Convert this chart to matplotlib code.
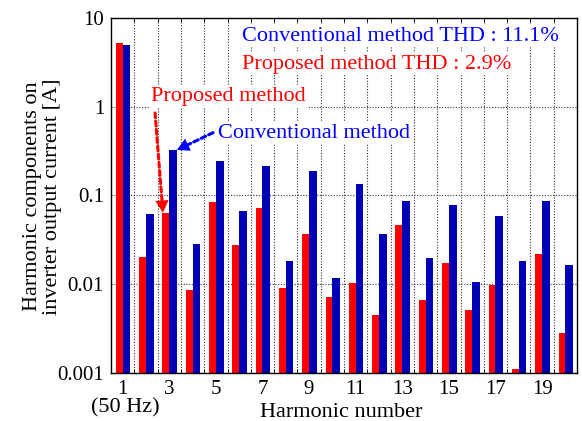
import matplotlib
matplotlib.use("Agg")
import matplotlib.pyplot as plt
import numpy as np

plt.rcParams['font.family'] = ['Liberation Serif', 'DejaVu Serif']

harmonics = list(range(1, 21))
proposed = [5.19, 0.0205, 0.064, 0.0086, 0.085, 0.028, 0.073, 0.0091, 0.0366, 0.0072,
            0.0102, 0.0045, 0.0466, 0.00665, 0.0172, 0.0051, 0.0098, 0.0011, 0.0217, 0.00285]
conventional = [4.97, 0.062, 0.326, 0.0286, 0.243, 0.067, 0.217, 0.0183, 0.187, 0.0118,
                0.135, 0.0366, 0.0867, 0.0199, 0.079, 0.0107, 0.0588, 0.0183, 0.0867, 0.0165]
xtick_vals = [1, 3, 5, 7, 9, 11, 13, 15, 17, 19]
ytick_vals = [0.001, 0.01, 0.1, 1, 10]
ytick_labels = ['0.001', '0.01', '0.1', '1', '10']

fig = plt.figure(figsize=(5.82, 4.21), dpi=100)
ax = fig.add_axes([111/582, 1-373/421, (577-111)/582, (373-18)/421])

x = np.array(harmonics)
ax.set_yscale('log')
ax.bar(x, proposed, width=-0.29, align='edge', color='#FF0000', zorder=3)
ax.bar(x, conventional, width=0.33, align='edge', color='#0000B4', zorder=3)

ax.set_ylim(0.001, 10)
ax.set_xlim(0.5, 20.5)
ax.set_yticks(ytick_vals)
ax.set_yticklabels(ytick_labels)
ax.yaxis.set_minor_locator(matplotlib.ticker.NullLocator())
ax.set_xticks(xtick_vals)
ax.set_xticks(np.arange(1.5, 20.5, 1.0), minor=True)
ax.tick_params(axis='both', which='major', length=0, labelsize=15, pad=5)
ax.tick_params(axis='x', which='minor', length=3, direction='in', top=True, bottom=True)
ax.grid(True, which='major', axis='y', linestyle=(0, (1, 1.5)), color='#333333', linewidth=0.8, zorder=0)
ax.grid(True, which='minor', axis='x', linestyle=(0, (1, 1.5)), color='#333333', linewidth=0.8, zorder=0)
for s in ax.spines.values():
    s.set_linewidth(1.0)
    s.set_zorder(5)

ax.set_xlabel('Harmonic number', fontsize=16, labelpad=0)
ax.xaxis.set_label_coords((341-111)/466, -0.085)
ax.set_ylabel('Harmonic components on\ninverter output current [A]', fontsize=16, linespacing=1.1)
ax.yaxis.set_label_coords(-0.105, 0.497)
fig.text(125/582, 1-408/421, '(50 Hz)', fontsize=16, ha='center', va='center')

bbox = dict(facecolor='white', edgecolor='none', pad=1)
ax.text(0.281, 0.949, 'Conventional method THD : 11.1%', transform=ax.transAxes,
        ha='left', va='center', fontsize=16, color='#0000FF', bbox=bbox, zorder=4)
ax.text(0.281, 0.870, 'Proposed method THD : 2.9%', transform=ax.transAxes,
        ha='left', va='center', fontsize=16, color='#FF0000', bbox=bbox, zorder=4)

ax.text(2.22, 1.29, 'Proposed method', ha='left', va='center', fontsize=16,
        color='#FF0000', bbox=bbox, zorder=4)
ax.text(5.09, 0.506, 'Conventional method', ha='left', va='center', fontsize=16,
        color='#0000FF', bbox=bbox, zorder=4)


def dashed_arrow(start, tip, color):
    # dashed shaft
    ax.annotate('', xy=tip, xytext=start,
                arrowprops=dict(arrowstyle='-', linestyle=(0, (1.6, 1.1)), color=color,
                                lw=2.2, shrinkA=0, shrinkB=6), zorder=4)
    # solid filled head
    ax.annotate('', xy=tip, xytext=start,
                arrowprops=dict(arrowstyle='-|>,head_width=0.3,head_length=0.55',
                                color=color, lw=0, mutation_scale=16,
                                shrinkA=0, shrinkB=0), zorder=4)


dashed_arrow((2.39, 0.85), (2.73, 0.064), '#FF0000')
dashed_arrow((4.88, 0.51), (3.33, 0.326), '#0000FF')

fig.savefig('out.png', dpi=100)
